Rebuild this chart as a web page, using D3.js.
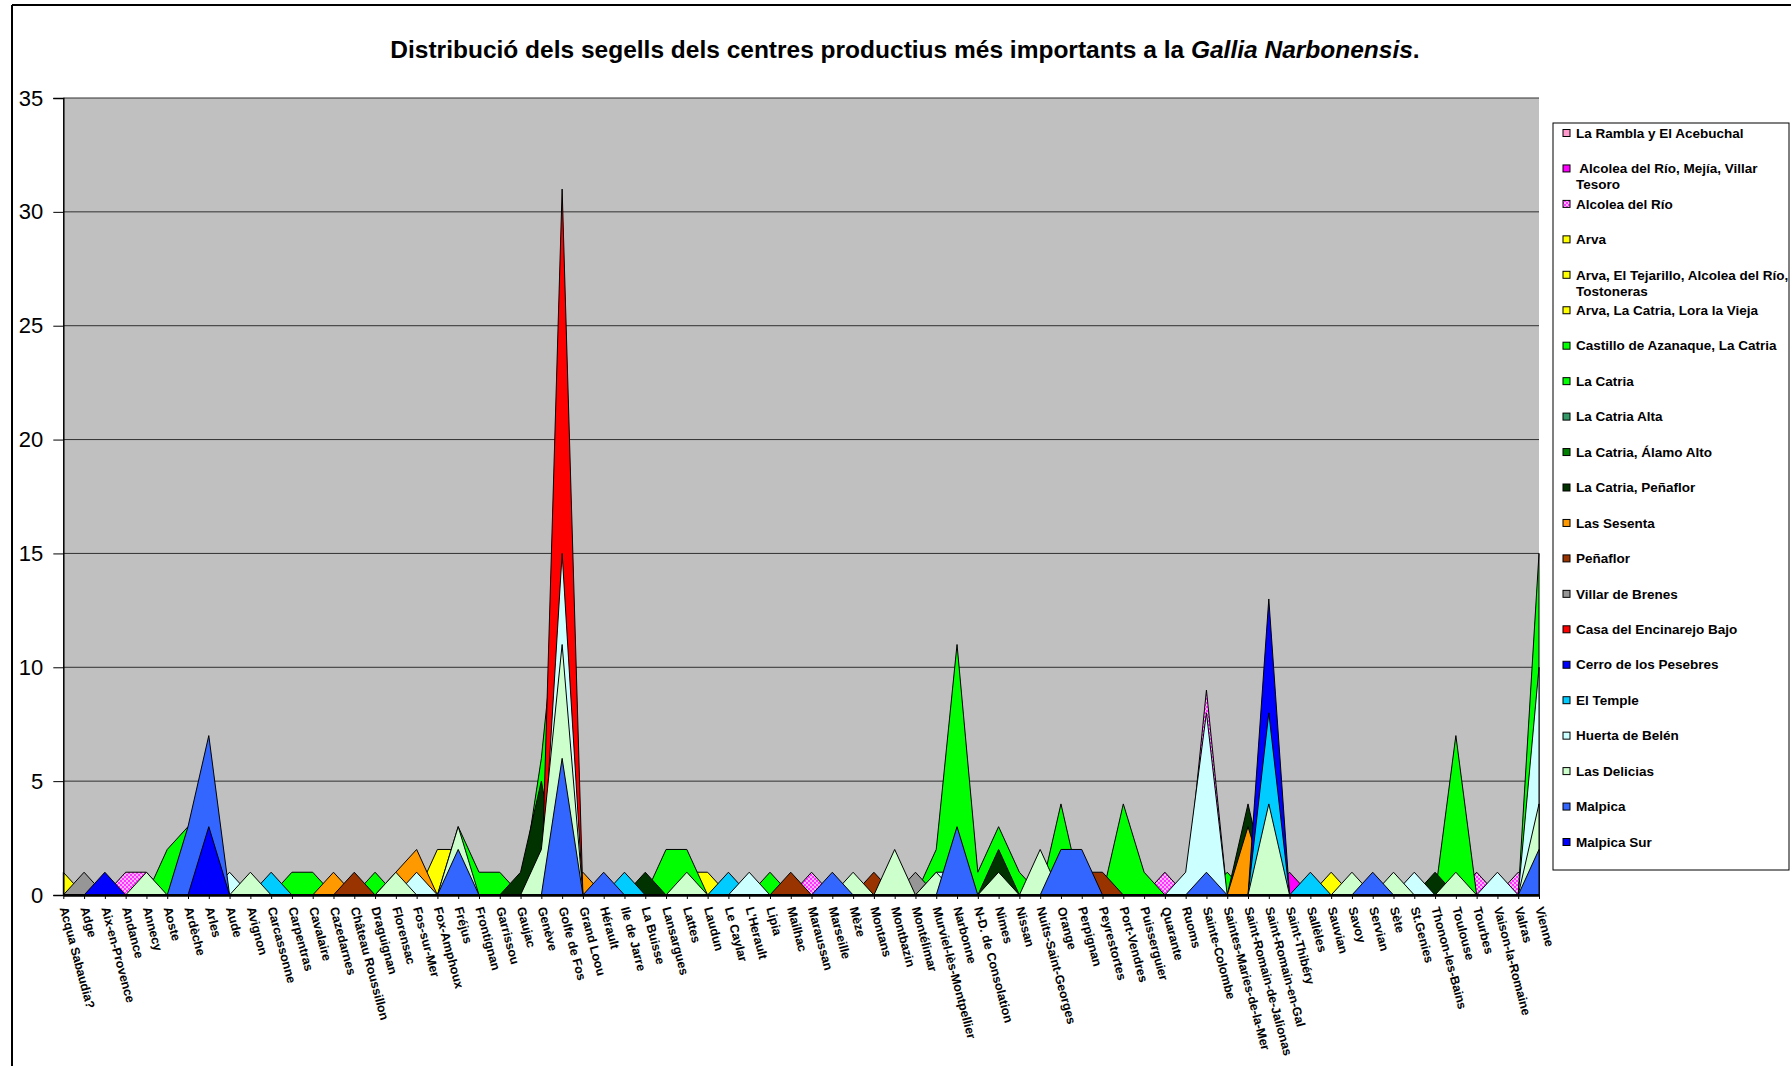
<!DOCTYPE html>
<html>
<head>
<meta charset="utf-8">
<title>Gallia Narbonensis</title>
<script src="https://cdn.jsdelivr.net/npm/d3@7"></script>
<style>
  body{margin:0;background:#fff;}
  svg{font-family:"Liberation Sans",Arial,sans-serif;}
  .cat-label{font-size:12.5px;font-weight:bold;}
  .y-axis text{font-size:22px;}
  .legend-text{font-size:13.5px;font-weight:bold;white-space:pre;}
</style>
</head>
<body>
<svg id="chart" width="1791" height="1066"></svg>
<script>
var categories = ["Acqua Sabaudia?","Adge","Aix-en-Provence","Andance","Annecy","Aoste","Ardèche","Arles","Aude","Avignon",
  "Carcassonne","Carpentras","Cavalaire","Cazedarnes","Château Roussillon","Draguignan","Florensac","Fos-sur-Mer","Fox-Amphoux","Fréjus",
  "Frontignan","Garrissou","Gaujac","Genève","Golfe de Fos","Grand Loou","Hérault","Ile de Jarre","La Buisse","Lansargues",
  "Lattes","Laudun","Le Caylar","L'Herault","Lipia","Mailhac","Maraussan","Marseille","Mèze","Montans",
  "Montbazin","Montélimar","Murviel-lès-Montpellier","Narbonne","N-D. de Consolation","Nimes","Nissan","Nuits-Saint-Georges","Orange","Perpignan",
  "Peyrestortes","Port-Vendres","Puisserguier","Quarante","Ruoms","Sainte-Colombe","Saintes-Maries-de-la-Mer","Saint-Romain-de-Jalionas","Saint-Romain-en-Gal","Saint-Thibéry",
  "Sallèles","Sauvian","Savoy","Servian","Sète","St.Genies","Thonon-les-Bains","Toulouse","Tourbes","Vaison-la-Romaine",
  "Valras","Vienne"];

var seriesNames = ["La Rambla y El Acebuchal"," Alcolea del Río, Mejía, Villar Tesoro","Alcolea del Río","Arva",
  "Arva, El Tejarillo, Alcolea del Río, Tostoneras","Arva, La Catria, Lora la Vieja","Castillo de Azanaque, La Catria",
  "La Catria","La Catria Alta","La Catria, Álamo Alto","La Catria, Peñaflor","Las Sesenta","Peñaflor","Villar de Brenes",
  "Casa del Encinarejo Bajo","Cerro de los Pesebres","El Temple","Huerta de Belén","Las Delicias","Malpica","Malpica Sur"];

// stamps per production centre: [find spot, count]; spots not listed are 0
var sRambla = [];
var sAlcoleaMejia = [["Saint-Thibéry",1]];
var sAlcolea = [["Andance",1],["Annecy",1],["Maraussan",1],["Quarante",1],["Sainte-Colombe",9],["Tourbes",1],["Valras",1]];
var sArva = [["Acqua Sabaudia?",1],["Lattes",1],["Laudun",1]];
var sArvaTejarillo = [["Fox-Amphoux",2],["Fréjus",2]];
var sArvaLora = [["Sauvian",1]];
var sCastillo = [["Vienne",15]];
var sCatria = [["Aoste",2],["Ardèche",3],["Carpentras",1],["Cavalaire",1],["Draguignan",1],["Fréjus",3],["Frontignan",1],
  ["Garrissou",1],["Genève",6],["Golfe de Fos",15],["Lansargues",2],["Lattes",2],["Lipia",1],["Murviel-lès-Montpellier",2],
  ["Narbonne",11],["N-D. de Consolation",1],["Nimes",3],["Nissan",1],["Orange",4],["Port-Vendres",4],["Puisserguier",1],
  ["Saintes-Maries-de-la-Mer",1],["Toulouse",7]];
var sCatriaAlta = [];
var sCatriaAlamo = [];
var sCatriaPenaflor = [["Gaujac",1],["Genève",5],["La Buisse",1],["Nimes",2],["Saint-Romain-de-Jalionas",4],["Thonon-les-Bains",1]];
var sSesenta = [["Cazedarnes",1],["Florensac",1],["Fos-sur-Mer",2],["Grand Loou",1],["Saint-Romain-de-Jalionas",3]];
var sPenaflor = [["Château Roussillon",1],["Mailhac",1],["Montans",1],["Perpignan",1],["Peyrestortes",1]];
var sVillar = [["Adge",1],["Montélimar",1]];
var sEncinarejo = [["Golfe de Fos",31]];
var sPesebres = [["Saint-Romain-en-Gal",13]];
var sTemple = [["Carcassonne",1],["Ile de Jarre",1],["Le Caylar",1],["Saint-Romain-en-Gal",8],["Sallèles",1]];
var sHuerta = [["Aude",1],["Fos-sur-Mer",1],["Golfe de Fos",15],["L'Herault",1],["Murviel-lès-Montpellier",1],["Narbonne",1],
  ["Ruoms",1],["Sainte-Colombe",8],["St.Genies",1],["Vaison-la-Romaine",1],["Vienne",10]];
var sDelicias = [["Annecy",1],["Avignon",1],["Florensac",1],["Fréjus",3],["Genève",2],["Golfe de Fos",11],["Lattes",1],["Mèze",1],
  ["Montbazin",2],["Murviel-lès-Montpellier",1],["Nimes",1],["Nuits-Saint-Georges",2],["Saint-Romain-en-Gal",4],["Savoy",1],
  ["Sète",1],["Toulouse",1],["Vienne",4]];
var sMalpica = [["Ardèche",3],["Arles",7],["Fréjus",2],["Golfe de Fos",6],["Hérault",1],["Marseille",1],["Narbonne",3],
  ["Orange",2],["Perpignan",2],["Sainte-Colombe",1],["Servian",1],["Vienne",2]];
var sMalpicaSur = [["Aix-en-Provence",1],["Arles",3]];

var seriesValues = [sRambla,sAlcoleaMejia,sAlcolea,sArva,sArvaTejarillo,sArvaLora,sCastillo,sCatria,sCatriaAlta,
  sCatriaAlamo,sCatriaPenaflor,sSesenta,sPenaflor,sVillar,sEncinarejo,sPesebres,sTemple,sHuerta,sDelicias,sMalpica,sMalpicaSur];

var yTicks = [0,5,10,15,20,25,30,35];

// fills, same order as seriesNames
var seriesColors = ["#FF99CC","#FF00FF","url(#checker)","#FFFF00","#FFFF00","#FFFF00","#00FF00","#00FF00","#339966",
  "#008000","#003300","#FF9900","#993300","#969696","#FF0000","#0000FF","#00CCFF","#CCFFFF","#CCFFCC","#3366FF","#0000FF"];

var svg = d3.select("#chart");
var plotLeft = 63.3, plotRight = 1539, plotTop = 98, plotBottom = 895;

var defs = svg.append("defs");
var pat = defs.append("pattern").attr("id","checker")
  .attr("width",4).attr("height",4).attr("patternUnits","userSpaceOnUse");
pat.append("rect").attr("width",4).attr("height",4).attr("fill","#FFB3FF");
pat.append("rect").attr("width",2).attr("height",2).attr("fill","#FF33FF");
pat.append("rect").attr("x",2).attr("y",2).attr("width",2).attr("height",2).attr("fill","#FF33FF");

//chart frame
svg.append("line").attr("x1",12).attr("y1",5).attr("x2",1791).attr("y2",5).style("stroke","#000").style("stroke-width",2);
svg.append("line").attr("x1",12).attr("y1",5).attr("x2",12).attr("y2",1066).style("stroke","#000").style("stroke-width",2);

//title
var title = svg.append("text")
  .attr("x",905).attr("y",58)
  .style("text-anchor","middle")
  .style("font-size","24.5px")
  .style("font-weight","bold");
title.append("tspan").text("Distribució dels segells dels centres productius més importants a la ");
title.append("tspan").style("font-style","italic").text("Gallia Narbonensis");
title.append("tspan").text(".");

var x = d3.scalePoint().domain(categories).range([plotLeft,plotRight]);
var y = d3.scaleLinear().domain([0,35]).range([plotBottom,plotTop]);

//plot background
svg.append("rect")
  .attr("x",plotLeft).attr("y",plotTop)
  .attr("width",plotRight-plotLeft).attr("height",plotBottom-plotTop)
  .style("fill","#C0C0C0");

//gridlines
svg.append("g").selectAll("line")
  .data(yTicks.filter(function(t){ return t>0; }))
  .enter().append("line")
  .attr("x1",plotLeft).attr("x2",plotRight)
  .attr("y1",function(d){ return y(d); }).attr("y2",function(d){ return y(d); })
  .style("stroke","#303030").style("stroke-width",1);

//expand the sparse lists to one value per find spot
function fullSeries(pairs){
  var m = new Map(pairs);
  return categories.map(function(c){ return {cat:c, v:(m.get(c)||0)}; });
}

var area = d3.area()
  .x(function(d){ return x(d.cat); })
  .y0(y(0))
  .y1(function(d){ return y(d.v); });

//series drawn in legend order, later ones in front
svg.append("g").attr("class","areas")
  .selectAll("path")
  .data(seriesValues)
  .enter().append("path")
  .attr("d",function(d){ return area(fullSeries(d)); })
  .style("fill",function(d,i){ return seriesColors[i]; })
  .style("stroke","#000")
  .style("stroke-width",1)
  .style("stroke-linejoin","miter");

//y axis
var yAxis = svg.append("g")
  .attr("class","y-axis")
  .attr("transform","translate("+plotLeft+",0)")
  .call(d3.axisLeft(y).tickValues(yTicks).tickSize(10).tickPadding(10));
yAxis.selectAll("text").style("font-family","Liberation Sans, Arial, sans-serif").attr("fill","#000");
yAxis.select(".domain").style("stroke","#000").style("stroke-width",1.5);
yAxis.selectAll(".tick line").style("stroke","#000");

//category axis
var xAxis = svg.append("g")
  .attr("transform","translate(0,"+plotBottom+")")
  .call(d3.axisBottom(x).tickSize(4).tickSizeOuter(0));
xAxis.select(".domain").style("stroke","#000").style("stroke-width",2.5);
xAxis.selectAll(".tick line").style("stroke","#000");
xAxis.selectAll("text")
  .attr("class","cat-label")
  .style("font-family","Liberation Sans, Arial, sans-serif")
  .attr("fill","#000")
  .attr("x",0).attr("y",0).attr("dy","0.35em")
  .attr("transform","translate(0,12) rotate(75)")
  .style("text-anchor","start");

//legend
var legX = 1553, legY = 123;
var legend = svg.append("g");
legend.append("rect")
  .attr("x",legX).attr("y",legY)
  .attr("width",1789-legX).attr("height",870-legY)
  .style("fill","#fff").style("stroke","#000").style("stroke-width",1);

var entryStep = 35.45;
seriesNames.forEach(function(name,i){
  var cy = 133 + i*entryStep;
  legend.append("rect")
    .attr("x",1563).attr("y",cy-3.5)
    .attr("width",7).attr("height",7)
    .style("fill",seriesColors[i]).style("stroke","#000").style("stroke-width",1);
  var t = legend.append("text")
    .attr("class","legend-text");
  //wrap long names onto a second line
  var words = name.split(" ");
  var line = [];
  var tspan = t.append("tspan").attr("x",1576).attr("y",cy).attr("dy","0.35em");
  var lineNo = 0;
  words.forEach(function(w){
    line.push(w);
    tspan.text(line.join(" "));
    if(tspan.node().getComputedTextLength() > 214 && line.length > 1){
      line.pop();
      tspan.text(line.join(" "));
      line = [w];
      lineNo++;
      tspan = t.append("tspan").attr("x",1576).attr("y",cy+lineNo*16).attr("dy","0.35em").text(w);
    }
  });
});
</script>
</body>
</html>
